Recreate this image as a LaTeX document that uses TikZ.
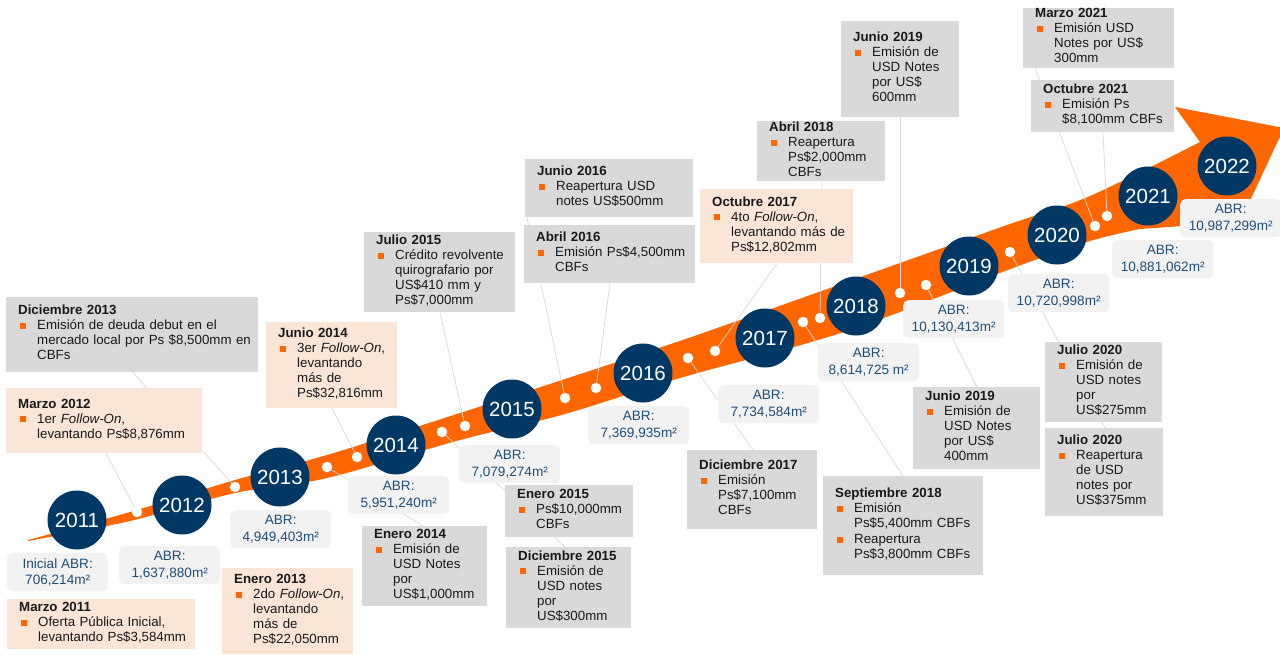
\documentclass[tikz,border=0pt]{standalone}
\usepackage{fontspec}
\setmainfont{Liberation Sans}
\usetikzlibrary{backgrounds}
\definecolor{bandorange}{RGB}{255,102,0}
\definecolor{navyblue}{RGB}{0,56,101}
\definecolor{boxgray}{RGB}{217,217,217}
\definecolor{boxpeach}{RGB}{251,229,214}
\definecolor{abrfill}{RGB}{242,242,242}
\definecolor{abrtext}{RGB}{31,78,121}
\definecolor{linkgray}{RGB}{215,215,215}
\newcommand{\boxfont}{\fontsize{13.3pt}{15pt}\selectfont}
\newcommand{\abrfont}{\fontsize{13.6pt}{16.5pt}\selectfont}
\newcommand{\yearfont}{\fontsize{20.5pt}{24pt}\selectfont}
\newcommand{\bul}{\makebox[19pt][l]{\hspace{2pt}\textcolor{bandorange}{\rule[0.8pt]{6pt}{6pt}}}}
\newcommand{\evitem}[1]{\par\bul\begin{tabular}[t]{@{}l@{}}#1\end{tabular}}
\begin{document}
\begin{tikzpicture}[x=1pt, y=-1pt,
    infobox/.style={anchor=north west, inner xsep=12pt, inner ysep=3pt, align=left, font=\boxfont, text=black!90},
    graybox/.style={infobox, fill=boxgray},
    peachbox/.style={infobox, fill=boxpeach},
    abrbox/.style={anchor=north west, fill=abrfill, rounded corners=5pt, minimum width=101pt, minimum height=38pt, inner sep=1pt, align=center, text=abrtext, font=\abrfont},
    yearcircle/.style={circle, fill=navyblue, text=white, minimum size=59pt, inner sep=0pt, font=\yearfont},
    bandpoint/.style={circle, fill=white, minimum size=10.5pt, inner sep=0pt},
    link/.style={draw=linkgray, line width=0.7pt},
  ]
  \useasboundingbox (0,0) rectangle (1280,654);

  \node[yearcircle] (y2011) at (77,520) {2011};
  \node[yearcircle] (y2012) at (182,505) {2012};
  \node[yearcircle] (y2013) at (280,477) {2013};
  \node[yearcircle] (y2014) at (396,445) {2014};
  \node[yearcircle] (y2015) at (512,409) {2015};
  \node[yearcircle] (y2016) at (643,373) {2016};
  \node[yearcircle] (y2017) at (765,338) {2017};
  \node[yearcircle] (y2018) at (856,306) {2018};
  \node[yearcircle] (y2019) at (969,266) {2019};
  \node[yearcircle] (y2020) at (1057,235) {2020};
  \node[yearcircle] (y2021) at (1148,196) {2021};
  \node[yearcircle] (y2022) at (1227,166) {2022};

  \node[bandpoint] (p1) at (137,512) {};
  \node[bandpoint] (p2) at (235,487) {};
  \node[bandpoint] (p3) at (327,467) {};
  \node[bandpoint] (p4) at (357,457) {};
  \node[bandpoint] (p5) at (442,432) {};
  \node[bandpoint] (p6) at (465,426) {};
  \node[bandpoint] (p7) at (565,398) {};
  \node[bandpoint] (p8) at (596,388) {};
  \node[bandpoint] (p9) at (688,358) {};
  \node[bandpoint] (p10) at (715,351) {};
  \node[bandpoint] (p11) at (803,322) {};
  \node[bandpoint] (p12) at (820,318) {};
  \node[bandpoint] (p13) at (900,293) {};
  \node[bandpoint] (p14) at (926,285) {};
  \node[bandpoint] (p15) at (1010,252) {};
  \node[bandpoint] (p16) at (1095,226) {};
  \node[bandpoint] (p17) at (1107,216) {};

  \node[abrbox] (abr2011) at (7,553) {Inicial ABR:\\706,214m²};
  \node[abrbox] (abr2012) at (119,546) {ABR:\\1,637,880m²};
  \node[abrbox] (abr2013) at (230,510) {ABR:\\4,949,403m²};
  \node[abrbox] (abr2014) at (348,476) {ABR:\\5,951,240m²};
  \node[abrbox] (abr2015) at (459,445) {ABR:\\7,079,274m²};
  \node[abrbox] (abr2016) at (588,406) {ABR:\\7,369,935m²};
  \node[abrbox] (abr2017) at (718,385) {ABR:\\7,734,584m²};
  \node[abrbox] (abr2018) at (818,343) {ABR:\\8,614,725 m²};
  \node[abrbox] (abr2019) at (903,300) {ABR:\\10,130,413m²};
  \node[abrbox] (abr2020) at (1008,274) {ABR:\\10,720,998m²};
  \node[abrbox] (abr2021) at (1112,240) {ABR:\\10,881,062m²};
  \node[abrbox] (abr2022) at (1180,199) {ABR:\\10,987,299m²};

  \node[graybox, minimum width=252pt, minimum height=75pt, text width=228pt] (dic13) at (6,297) {\textbf{Diciembre 2013}\evitem{Emisión de deuda debut en el\\mercado local por Ps \$8,500mm en\\CBFs}};
  \node[peachbox, minimum width=196pt, minimum height=65pt, text width=172pt] (mar12) at (6,388) {\textbf{Marzo 2012}\evitem{1er \textit{Follow-On},\\levantando Ps\$8,876mm}};
  \node[peachbox, inner ysep=1pt, minimum width=188pt, minimum height=50pt, text width=164pt] (mar11) at (7,599) {\textbf{Marzo 2011}\evitem{Oferta Pública Inicial,\\levantando Ps\$3,584mm}};
  \node[peachbox, minimum width=131pt, minimum height=86pt, text width=107pt] (ene13) at (222,568) {\textbf{Enero 2013}\evitem{2do \textit{Follow-On},\\levantando\\más de\\Ps\$22,050mm}};
  \node[peachbox, minimum width=131pt, minimum height=86pt, text width=107pt] (jun14) at (266,322) {\textbf{Junio 2014}\evitem{3er \textit{Follow-On},\\levantando\\más de\\Ps\$32,816mm}};
  \node[graybox, minimum width=125pt, minimum height=80pt, text width=101pt] (ene14) at (362,526) {\textbf{Enero 2014}\evitem{Emisión de\\USD Notes\\por\\US\$1,000mm}};
  \node[graybox, minimum width=151pt, minimum height=78pt, text width=127pt] (jul15) at (364,232) {\textbf{Julio 2015}\evitem{Crédito revolvente\\quirografario por\\US\$410 mm y\\Ps\$7,000mm}};
  \node[graybox, minimum width=128pt, minimum height=52pt, text width=104pt] (ene15) at (505,485) {\textbf{Enero 2015}\evitem{Ps\$10,000mm\\CBFs}};
  \node[graybox, minimum width=125pt, minimum height=81pt, text width=101pt] (dic15) at (506,547) {\textbf{Diciembre 2015}\evitem{Emisión de\\USD notes\\por\\US\$300mm}};
  \node[graybox, minimum width=168pt, minimum height=58pt, text width=144pt] (jun16) at (525,159) {\textbf{Junio 2016}\evitem{Reapertura USD\\notes US\$500mm}};
  \node[graybox, minimum width=171pt, minimum height=58pt, text width=147pt] (abr16) at (524,225) {\textbf{Abril 2016}\evitem{Emisión Ps\$4,500mm\\CBFs}};
  \node[peachbox, minimum width=153pt, minimum height=74pt, text width=129pt] (oct17) at (700,189) {\textbf{Octubre 2017}\evitem{4to \textit{Follow-On},\\levantando más de\\Ps\$12,802mm}};
  \node[graybox, inner ysep=0.5pt, minimum width=128pt, minimum height=60pt, text width=104pt] (abr18) at (757,121) {\textbf{Abril 2018}\evitem{Reapertura\\Ps\$2,000mm\\CBFs}};
  \node[graybox, minimum width=118pt, minimum height=96pt, text width=94pt] (jun19a) at (841,21) {\textbf{Junio 2019}\evitem{Emisión de\\USD Notes\\por US\$\\600mm}};
  \node[graybox, inner ysep=0.5pt, minimum width=151pt, minimum height=59pt, text width=127pt] (mar21) at (1023,8) {\textbf{Marzo 2021}\evitem{Emisión USD\\Notes por US\$\\300mm}};
  \node[graybox, minimum width=143pt, minimum height=52pt, text width=119pt] (oct21) at (1031,80) {\textbf{Octubre 2021}\evitem{Emisión Ps\\\$8,100mm CBFs}};
  \node[graybox, minimum width=130pt, minimum height=79pt, text width=106pt] (dic17) at (687,450) {\textbf{Diciembre 2017}\evitem{Emisión\\Ps\$7,100mm\\CBFs}};
  \node[graybox, minimum width=160pt, minimum height=99pt, text width=136pt] (sep18) at (823,476) {\textbf{Septiembre 2018}\evitem{Emisión\\Ps\$5,400mm CBFs}\evitem{Reapertura\\Ps\$3,800mm CBFs}};
  \node[graybox, minimum width=127pt, minimum height=82pt, text width=103pt] (jun19b) at (913,387) {\textbf{Junio 2019}\evitem{Emisión de\\USD Notes\\por US\$\\400mm}};
  \node[graybox, minimum width=117pt, minimum height=78pt, text width=93pt] (jul20a) at (1045,342) {\textbf{Julio 2020}\evitem{Emisión de\\USD notes\\por\\US\$275mm}};
  \node[graybox, minimum width=118pt, minimum height=88pt, text width=94pt] (jul20b) at (1045,428) {\textbf{Julio 2020}\evitem{Reapertura\\de USD\\notes por\\US\$375mm}};

  \begin{scope}[on background layer]
    \fill[bandorange] plot[smooth, tension=0.55] coordinates {(28,540) (130,512) (235,480) (327,455) (460,413) (565,379) (700,334) (900,263) (1007,225) (1090,196) (1200,142)}
      -- (1175,107) -- (1284,128) -- (1240,222)
      -- plot[smooth, tension=0.55] coordinates {(1140,229) (1090,241) (1013,268) (847,331) (680,378) (565,414) (460,440) (327,478) (235,493) (130,521) (28,541)} -- cycle;
    \draw[link] (p1) -- (mar12.south -| 106,0);
    \draw[link] (p2) -- (dic13.south -| 133,0);
    \draw[link] (p3) -- (ene14.north -| 423,0);
    \draw[link] (p4) -- (jun14.south -| 332,0);
    \draw[link] (p5) -- (dic15.north -| 565,0);
    \draw[link] (p6) -- (jul15.south -| 440,0);
    \draw[link] (p7) -- (jun16.south -| 527,0);
    \draw[link] (p8) -- (abr16.south -| 610,0);
    \draw[link] (p9) -- (dic17.north -| 753,0);
    \draw[link] (p10) -- (oct17.south -| 777,0);
    \draw[link] (p11) -- (sep18.north -| 903,0);
    \draw[link] (p12) -- (abr18.south -| 822,0);
    \draw[link] (p13) -- (jun19a.south -| 900,0);
    \draw[link] (p14) -- (jun19b.north -| 977,0);
    \draw[link] (p15) -- (jul20b.north -| 1105,0);
    \draw[link] (p16) -- (mar21.south -| 1035,0);
    \draw[link] (p17) -- (oct21.south -| 1103,0);
  \end{scope}
\end{tikzpicture}
\end{document}
